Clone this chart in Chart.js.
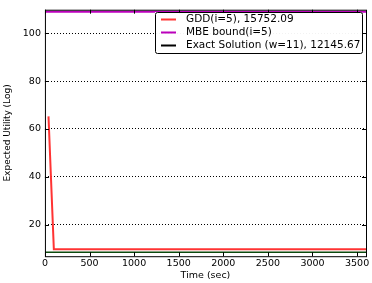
<!DOCTYPE html>
<html>
<head>
<meta charset="utf-8">
<script src="https://cdn.jsdelivr.net/npm/chart.js@4/dist/chart.umd.min.js"></script>
<style>
  html, body { margin: 0; padding: 0; background: #fff; }
  #wrap { width: 372px; height: 283px; }
</style>
</head>
<body>
<div id="wrap"><canvas id="mychart" width="372" height="283"></canvas></div>
<script>
// series data
var gddTime = [40, 100, 3600];
var gddUtil = [65.3, 9.6, 9.6];
var mbeTime = [0, 3600];
var mbeUtil = [109.1, 109.1];
var exactTime = [0, 3600];
var exactUtil = [8.4, 8.4];

var seriesLabels = ['GDD(i=5), 15752.09', 'MBE bound(i=5)', 'Exact Solution (w=11), 12145.67'];
var xTicks = [0, 500, 1000, 1500, 2000, 2500, 3000, 3500];
var yTicks = [20, 40, 60, 80, 100];

function pts(xs, ys) {
    return xs.map(function(x, i) { return { x: x, y: ys[i] }; });
}

var FONT = '"DejaVu Sans", sans-serif';

// matplotlib style: box, inward ticks, legend inside
var boxPlugin = {
    id: 'box',
    afterDatasetsDraw: function(chart) {
        var ctx = chart.ctx, a = chart.chartArea;
        var xs = chart.scales.x, ys = chart.scales.y;
        ctx.save();
        ctx.strokeStyle = '#000';
        ctx.lineWidth = 1;
        ctx.strokeRect(a.left + 0.5, a.top + 0.5, a.right - a.left, a.bottom - a.top);
        ctx.beginPath();
        xTicks.forEach(function(v) {
            var px = Math.round(xs.getPixelForValue(v)) + 0.5;
            ctx.moveTo(px, a.bottom); ctx.lineTo(px, a.bottom - 4);
            ctx.moveTo(px, a.top); ctx.lineTo(px, a.top + 4);
        });
        yTicks.forEach(function(v) {
            var py = Math.round(ys.getPixelForValue(v)) + 0.5;
            ctx.moveTo(a.left, py); ctx.lineTo(a.left + 4, py);
            ctx.moveTo(a.right, py); ctx.lineTo(a.right - 4, py);
        });
        ctx.stroke();

        // legend
        var lx = 155, ly = 12, lw = 207, lh = 41;
        ctx.fillStyle = 'rgba(255,255,255,0.95)';
        ctx.fillRect(lx, ly, lw, lh);
        ctx.strokeStyle = '#000';
        ctx.lineWidth = 1;
        ctx.beginPath();
        if (ctx.roundRect) ctx.roundRect(lx + 0.5, ly + 0.5, lw, lh, 2); else ctx.rect(lx + 0.5, ly + 0.5, lw, lh);
        ctx.stroke();
        ctx.font = '10.5px ' + FONT;
        ctx.textBaseline = 'middle';
        var legendColors = ['#ff3333', '#bb00bb', '#000000'];
        seriesLabels.forEach(function(lab, i) {
            var yy = ly + 7.5 + i * 13;
            ctx.strokeStyle = legendColors[i];
            ctx.lineWidth = 2;
            ctx.beginPath();
            ctx.moveTo(lx + 6, yy); ctx.lineTo(lx + 21, yy);
            ctx.stroke();
            ctx.fillStyle = '#000';
            ctx.fillText(lab, lx + 31, yy);
        });
        ctx.restore();
    }
};

var config = {
    type: 'line',
    data: {
        datasets: [{
            label: seriesLabels[0],
            data: pts(gddTime, gddUtil),
            borderColor: '#ff3333',
            borderWidth: 2,
            pointRadius: 0,
            tension: 0
        }, {
            label: seriesLabels[1],
            data: pts(mbeTime, mbeUtil),
            borderColor: '#bb00bb',
            borderWidth: 2,
            pointRadius: 0
        }, {
            label: seriesLabels[2],
            data: pts(exactTime, exactUtil),
            borderColor: '#0d4a0d',
            borderWidth: 1.5,
            pointRadius: 0
        }]
    },
    options: {
        responsive: false,
        animation: false,
        layout: { padding: { left: 2, right: 6, top: 7, bottom: 2 } },
        plugins: {
            legend: { display: false },
            tooltip: { enabled: false }
        },
        scales: {
            x: {
                type: 'linear',
                min: 0,
                max: 3600,
                afterBuildTicks: function(s) { s.ticks = xTicks.map(function(v) { return { value: v }; }); },
                grid: { display: false, drawTicks: false },
                border: { display: false },
                ticks: { color: '#000', font: { family: FONT, size: 9.5 }, padding: 2, maxRotation: 0,
                         callback: function(v) { return String(v); } },
                title: { display: true, text: 'Time (sec)', color: '#000', font: { family: FONT, size: 9.5 }, padding: { top: -2, bottom: 0 } }
            },
            y: {
                type: 'linear',
                min: 6.74,
                max: 109.95,
                afterBuildTicks: function(s) { s.ticks = yTicks.map(function(v) { return { value: v }; }); },
                grid: { color: '#000', lineWidth: 1, drawTicks: false },
                border: { display: false, dash: [1, 2] },
                ticks: { color: '#000', font: { family: FONT, size: 9.5 }, padding: 4,
                         callback: function(v) { return String(v); } },
                title: { display: true, text: 'Expected Utility (Log)', color: '#000', font: { family: FONT, size: 9 }, padding: { top: 0, bottom: 6 } }
            }
        }
    },
    plugins: [boxPlugin]
};

var ctx = document.getElementById('mychart').getContext('2d');
window.myChart = new Chart(ctx, config);
</script>
</body>
</html>
